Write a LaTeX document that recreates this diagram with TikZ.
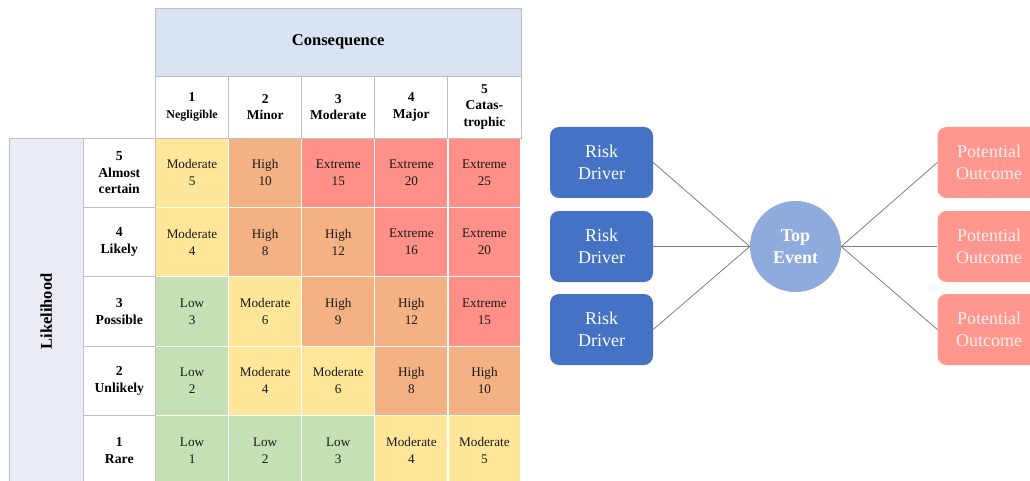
\documentclass[tikz,border=0pt]{standalone}
\usepackage{fontspec}
\setmainfont{Liberation Serif}
\definecolor{hdr}{HTML}{DAE3F3}
\definecolor{lik}{HTML}{E9EBF5}
\definecolor{gline}{HTML}{BFBFBF}
\definecolor{cLow}{HTML}{C5E0B4}
\definecolor{cMod}{HTML}{FFE699}
\definecolor{cHigh}{HTML}{F4B183}
\definecolor{cExt}{HTML}{FF9087}
\definecolor{drv}{HTML}{4472C4}
\definecolor{topc}{HTML}{8FAADC}
\definecolor{outc}{HTML}{FF978E}
\definecolor{outtxt}{HTML}{FFF0EE}
\definecolor{conn}{HTML}{7F7F7F}
\definecolor{ctext}{HTML}{1A1A1A}
\tikzset{
  cellbox/.style={minimum width=73.1pt, minimum height=69.4pt, inner sep=0pt,
    draw=white, line width=1.2pt, align=center, text=ctext,
    font=\fontsize{13.2}{17}\selectfont},
  rowlab/.style={minimum width=72.5pt, minimum height=69.4pt, inner sep=0pt,
    draw=gline, line width=0.9pt, fill=white, align=center,
    font=\bfseries\fontsize{13.7}{16.5}\selectfont},
  colhead/.style={minimum width=73.1pt, minimum height=62pt, inner sep=0pt,
    draw=gline, line width=0.9pt, fill=white, align=center,
    font=\bfseries\fontsize{13.5}{16.5}\selectfont},
  driverbox/.style={minimum width=103pt, minimum height=71pt, inner sep=0pt,
    rounded corners=9pt, fill=drv, text=white, align=center,
    font=\fontsize{18}{22}\selectfont},
  outcomebox/.style={minimum width=103pt, minimum height=71pt, inner sep=0pt,
    rounded corners=9pt, fill=outc, text=outtxt, align=center,
    font=\fontsize{18}{22}\selectfont},
  link/.style={draw=conn, line width=0.8pt}
}
\begin{document}
\begin{tikzpicture}[x=1pt,y=-1pt]
\clip (0,0) rectangle (1030,481);
\fill[white] (0,0) rectangle (1030,481);
% risk grid
\foreach \r/\c/\lab/\col in {
  5/1/Moderate/cMod, 5/2/High/cHigh, 5/3/Extreme/cExt, 5/4/Extreme/cExt, 5/5/Extreme/cExt,
  4/1/Moderate/cMod, 4/2/High/cHigh, 4/3/High/cHigh, 4/4/Extreme/cExt, 4/5/Extreme/cExt,
  3/1/Low/cLow, 3/2/Moderate/cMod, 3/3/High/cHigh, 3/4/High/cHigh, 3/5/Extreme/cExt,
  2/1/Low/cLow, 2/2/Moderate/cMod, 2/3/Moderate/cMod, 2/4/High/cHigh, 2/5/High/cHigh,
  1/1/Low/cLow, 1/2/Low/cLow, 1/3/Low/cLow, 1/4/Moderate/cMod, 1/5/Moderate/cMod}{
  \pgfmathtruncatemacro{\v}{\r*\c}
  \node[cellbox, fill=\col] (cell-\r-\c) at ({155.5+73.1*(\c-0.5)}, {138+69.4*(5-\r)+34.7}) {\lab\\\v};
}
% row labels
\node[rowlab] (lab-5) at (119.25, {138+34.7}) {5\\Almost\\certain};
\node[rowlab] (lab-4) at (119.25, {138+69.4+34.7}) {4\\Likely};
\node[rowlab] (lab-3) at (119.25, {138+2*69.4+34.7}) {3\\Possible};
\node[rowlab] (lab-2) at (119.25, {138+3*69.4+34.7}) {2\\Unlikely};
\node[rowlab] (lab-1) at (119.25, {138+4*69.4+34.7}) {1\\Rare};
% likelihood
\node[draw=gline, line width=0.9pt, fill=lik, rotate=90, minimum width=347pt,
  minimum height=73.5pt, inner sep=0pt, font=\bfseries\fontsize{16.5}{20}\selectfont]
  (likelihood) at (46.25, 311.5) {Likelihood};
% column headers
\node[colhead] (head-1) at ({155.5+73.1*0.5}, 107) {1\\{\fontsize{12}{16}\selectfont Negligible}};
\node[colhead] (head-2) at ({155.5+73.1*1.5}, 107) {2\\Minor};
\node[colhead] (head-3) at ({155.5+73.1*2.5}, 107) {3\\Moderate};
\node[colhead] (head-4) at ({155.5+73.1*3.5}, 107) {4\\Major};
\node[colhead] (head-5) at ({155.5+73.1*4.5}, 107) {5\\Catas-\\trophic};
\node[draw=gline, line width=0.9pt, fill=hdr, minimum width=365.5pt, minimum height=68pt,
  inner sep=0pt, font=\bfseries\fontsize{16.5}{20}\selectfont]
  (consequence) at (338.25, 42) {Consequence};
% bow tie
\node[driverbox] (d1) at (601.5, 162.5) {Risk\\Driver};
\node[driverbox] (d2) at (601.5, 246.5) {Risk\\Driver};
\node[driverbox] (d3) at (601.5, 329.5) {Risk\\Driver};
\node[circle, fill=topc, minimum size=91pt, inner sep=0pt, text=white, align=center,
  font=\bfseries\fontsize{18}{22}\selectfont] (top) at (795.5, 246.5) {Top\\Event};
\node[outcomebox] (o1) at (989, 162.5) {Potential\\Outcome};
\node[outcomebox] (o2) at (989, 246.5) {Potential\\Outcome};
\node[outcomebox] (o3) at (989, 329.5) {Potential\\Outcome};
\draw[link] (d1.east) -- (top.west);
\draw[link] (d2.east) -- (top.west);
\draw[link] (d3.east) -- (top.west);
\draw[link] (top.east) -- (o1.west);
\draw[link] (top.east) -- (o2.west);
\draw[link] (top.east) -- (o3.west);
\end{tikzpicture}
\end{document}
